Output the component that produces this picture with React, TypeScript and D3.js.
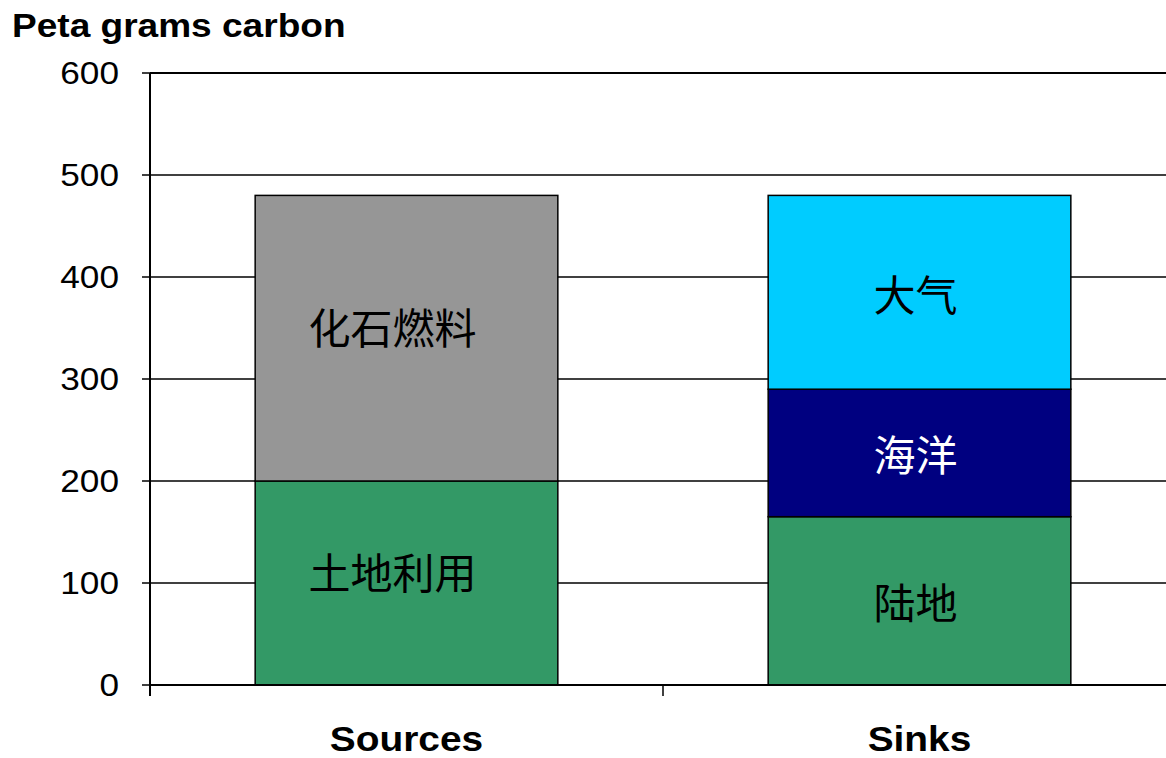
import React from "react";
import * as d3 from "d3";

// Category slots along the x axis
const categories = ["Sources", "Sinks"];

// Stacked segments for each category (bottom to top)
const sourceLabels = ["土地利用", "化石燃料"];
const sourceValues = [200, 280];
const sinkLabels = ["陆地", "海洋", "大气"];
const sinkValues = [165, 125, 190];

const yTicks = [0, 100, 200, 300, 400, 500, 600];

const sourceColors = ["#339966", "#969696"];
const sinkColors = ["#339966", "#000080", "#00CCFF"];
const sinkTextColors = ["#000", "#fff", "#000"];
const sourceTextColors = ["#000", "#000"];

const W = 1166;
const H = 758;
const plotLeft = 150;
const plotRight = 1176;
const plotTop = 73;
const plotBottom = 685;

// Latin text is drawn slightly wide
const WIDE = 1.09;

export default function App() {
  const x = d3.scaleBand<string>().domain(categories).range([plotLeft, plotRight]).padding(0);
  const y = d3.scaleLinear().domain([0, 600]).range([plotBottom, plotTop]);
  const barW = x.bandwidth() * 0.59;

  const stacks = [
    { cat: "Sources", labels: sourceLabels, values: sourceValues, colors: sourceColors, textColors: sourceTextColors, dx: -14, dy: -13 },
    { cat: "Sinks", labels: sinkLabels, values: sinkValues, colors: sinkColors, textColors: sinkTextColors, dx: -4, dy: 0 },
  ];

  const cjk = "'Noto Sans CJK SC', 'Noto Sans CJK JP', sans-serif";
  const latin = "'Liberation Sans', Arial, sans-serif";

  return (
    <svg
      width={W}
      height={H}
      style={{ position: "fixed", left: 0, top: 0, background: "#fff" }}
    >
      <text
        transform={`translate(12,37) scale(${WIDE},1)`}
        fontFamily={latin}
        fontWeight="bold"
        fontSize={34}
        fill="#000"
      >
        Peta grams carbon
      </text>

      {/* horizontal gridlines */}
      {yTicks.map((t) => (
        <line
          key={"g" + t}
          x1={plotLeft}
          x2={W}
          y1={y(t)}
          y2={y(t)}
          stroke="#000"
          strokeWidth={t === 600 ? 2 : 1.5}
        />
      ))}

      {/* stacked bars */}
      {stacks.map((s) => {
        const cx = (x(s.cat) as number) + x.bandwidth() / 2;
        let acc = 0;
        return (
          <g key={s.cat}>
            {s.values.map((v, i) => {
              const y0 = acc;
              const y1 = acc + v;
              acc = y1;
              const top = y(y1);
              const bot = y(y0);
              return (
                <g key={i}>
                  <rect
                    x={cx - barW / 2}
                    y={top}
                    width={barW}
                    height={bot - top}
                    fill={s.colors[i]}
                    stroke="#000"
                    strokeWidth={1.5}
                  />
                  <text
                    x={cx + s.dx}
                    y={(top + bot) / 2 + s.dy}
                    textAnchor="middle"
                    dominantBaseline="central"
                    fontFamily={cjk}
                    fontSize={42}
                    fill={s.textColors[i]}
                  >
                    {s.labels[i]}
                  </text>
                </g>
              );
            })}
          </g>
        );
      })}

      {/* y axis */}
      <line x1={plotLeft} x2={plotLeft} y1={plotTop} y2={plotBottom + 11} stroke="#000" strokeWidth={2} />
      {yTicks.map((t) => (
        <g key={"t" + t}>
          <line x1={plotLeft - 8} x2={plotLeft} y1={y(t)} y2={y(t)} stroke="#000" strokeWidth={1.5} />
          <text
            transform={`translate(119,${y(t)}) scale(1.1,1)`}
            textAnchor="end"
            dominantBaseline="central"
            fontFamily={latin}
            fontSize={32}
            fill="#000"
          >
            {t}
          </text>
        </g>
      ))}

      {/* x axis */}
      <line x1={plotLeft} x2={W} y1={plotBottom} y2={plotBottom} stroke="#000" strokeWidth={2} />
      {categories.map((c) => (
        <g key={c}>
          <line
            x1={(x(c) as number) + x.bandwidth()}
            x2={(x(c) as number) + x.bandwidth()}
            y1={plotBottom}
            y2={plotBottom + 11}
            stroke="#000"
            strokeWidth={1.5}
          />
          <text
            transform={`translate(${(x(c) as number) + x.bandwidth() / 2},751) scale(1.08,1)`}
            textAnchor="middle"
            fontFamily={latin}
            fontWeight="bold"
            fontSize={36}
            fill="#000"
          >
            {c}
          </text>
        </g>
      ))}
    </svg>
  );
}
